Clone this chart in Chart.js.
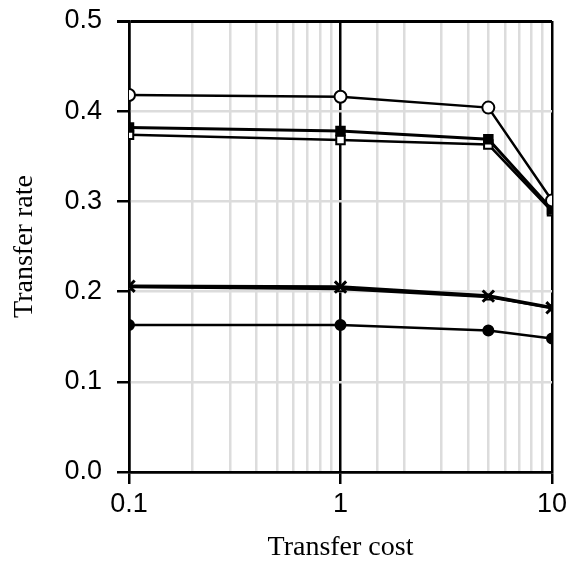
<!DOCTYPE html>
<html>
<head>
<meta charset="utf-8">
<script src="https://cdn.jsdelivr.net/npm/chart.js@4"></script>
<style>
  html, body { margin: 0; padding: 0; background: #fff; }
  #wrap { width: 570px; height: 564px; }
</style>
</head>
<body>
<div id="wrap"><canvas id="rateChart" width="570" height="564"></canvas></div>
<script>
const costs = [0.1, 1, 5, 10];

const openCircle   = [0.418, 0.416, 0.404, 0.301];
const filledSquare = [0.382, 0.378, 0.369, 0.291];
const openSquare   = [0.374, 0.368, 0.363, 0.289];
const crossMark    = [0.206, 0.205, 0.195, 0.182];
const smallSquare  = [0.205, 0.203, 0.194, 0.182];
const filledCircle = [0.163, 0.163, 0.157, 0.148];

const yTicks = [0.0, 0.1, 0.2, 0.3, 0.4, 0.5];

const pts = (ys) => costs.map((x, i) => ({ x: x, y: ys[i] }));
const isDecade = (v) => Math.abs(Math.log10(v) - Math.round(Math.log10(v))) < 1e-6;

function series(ys, style, radius, fill, width) {
  return {
    data: pts(ys),
    borderColor: '#000',
    backgroundColor: fill,
    borderWidth: width,
    pointStyle: style,
    pointRadius: radius,
    pointBorderWidth: 2,
    pointBorderColor: '#000',
    pointBackgroundColor: fill,
    tension: 0
  };
}

const canvas = document.getElementById('rateChart');
const ctx = canvas.getContext('2d');

new Chart(ctx, {
  type: 'line',
  data: {
    datasets: [
      series(openCircle, 'circle', 6, '#fff', 2.5),
      series(filledSquare, 'rect', 6, '#000', 3),
      series(openSquare, 'rect', 6, '#fff', 2.5),
      Object.assign(series(crossMark, 'crossRot', 8, '#000', 3.5), { pointBorderWidth: 3 }),
      series(smallSquare, 'rect', 3.5, '#fff', 2.5),
      series(filledCircle, 'circle', 5, '#000', 2.5)
    ]
  },
  options: {
    responsive: false,
    animation: false,
    layout: { padding: { top: 21, right: 18, left: 0, bottom: 0 } },
    plugins: {
      legend: { display: false },
      tooltip: { enabled: false }
    },
    scales: {
      x: {
        type: 'logarithmic',
        min: 0.1,
        max: 10,
        afterFit: (s) => { s.height = 92; s.paddingLeft = 0; s.paddingRight = 0; },
        border: { color: '#000', width: 2.5 },
        grid: {
          color: (c) => isDecade(c.tick.value) ? '#000' : '#dcdcdc',
          lineWidth: 2.5,
          tickColor: (c) => isDecade(c.tick.value) ? '#000' : 'rgba(0,0,0,0)',
          tickLength: 12
        },
        ticks: {
          autoSkip: false,
          maxRotation: 0,
          color: '#000',
          padding: 4,
          font: { family: 'Liberation Sans', size: 27 },
          callback: (v) => isDecade(v) ? String(Number(v.toPrecision(3))) : ''
        },
        title: {
          display: true,
          text: 'Transfer cost',
          color: '#000',
          font: { family: 'Liberation Serif', size: 28 },
          padding: { top: 2, bottom: 0 }
        }
      },
      y: {
        min: 0,
        max: 0.5,
        afterFit: (s) => { s.width = 129; s.paddingTop = 0; s.paddingBottom = 0; },
        afterBuildTicks: (s) => { s.ticks = yTicks.map((v) => ({ value: v })); },
        border: { color: '#000', width: 2.5 },
        grid: {
          color: (c) => (c.tick.value >= 0.5 - 1e-9 || c.tick.value === 0) ? '#000' : '#dcdcdc',
          lineWidth: (c) => c.tick.value >= 0.5 - 1e-9 ? 3 : 2.5,
          tickColor: '#000',
          tickLength: 12
        },
        ticks: {
          color: '#000',
          padding: 15,
          font: { family: 'Liberation Sans', size: 27 },
          callback: (v) => v.toFixed(1)
        },
        title: {
          display: true,
          text: 'Transfer rate',
          color: '#000',
          font: { family: 'Liberation Serif', size: 28 },
          padding: { top: 8, bottom: 0 }
        }
      }
    }
  }
});
</script>
</body>
</html>
